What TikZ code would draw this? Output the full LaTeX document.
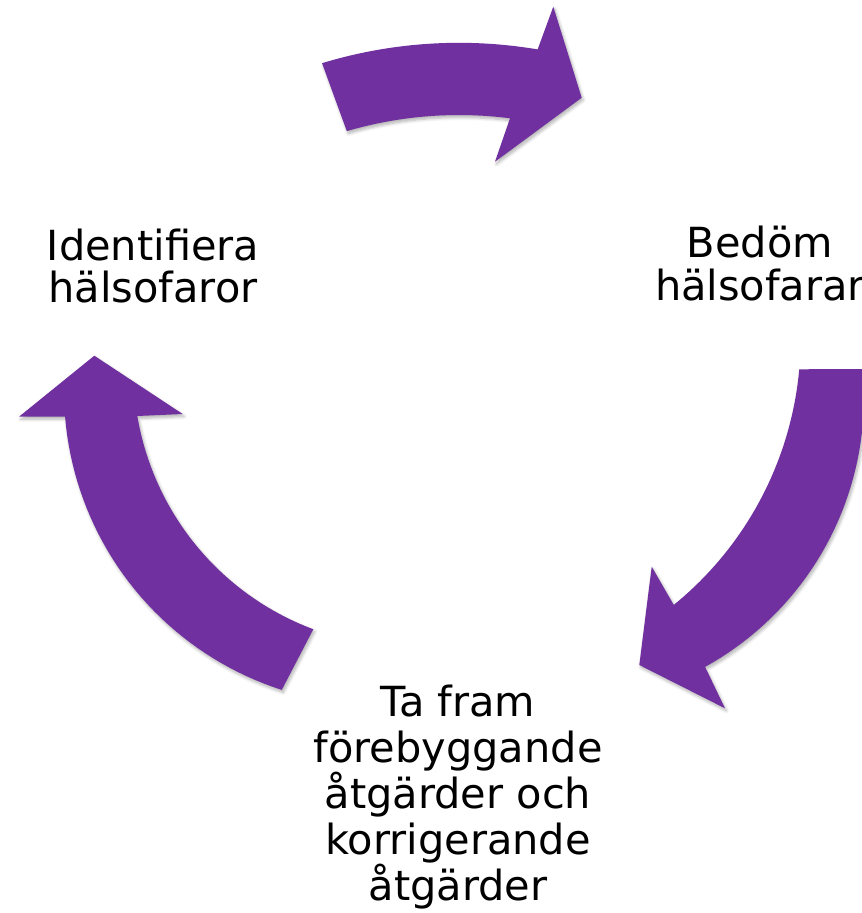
\documentclass[tikz,border=0pt]{standalone}
\usepackage{fontspec}
\setmainfont{DejaVu Sans}
\usetikzlibrary{shadows.blur}
\definecolor{arrowpurple}{RGB}{112,48,160}
\tikzset{
  arrowfill/.style={fill=arrowpurple, draw=none,
    blur shadow={shadow xshift=1.5pt, shadow yshift=-2.5pt, shadow blur radius=3pt, shadow blur steps=6, shadow opacity=30}},
  label/.style={inner sep=0pt, align=center, anchor=base, text=black}
}
\begin{document}
\begin{tikzpicture}[x=1pt,y=-1pt]
\useasboundingbox (0,0) rectangle (862,913);
\clip (0,0) rectangle (862,913);
% top arrow
\path[arrowfill]
  plot[domain=-106.9:-80.39, samples=40, variable=\t] ({459+471.2*cos(\t)},{514+471.2*sin(\t)})
  -- (553.3,6.7) -- (581.7,97.7) -- (495,161.7) -- (510,118.3)
  -- plot[domain=-82.65:-106.33, samples=40, variable=\t] ({459+399*cos(\t)},{514+399*sin(\t)})
  -- cycle;
% right arrow
\path[arrowfill]
  plot[domain=5.19:50.9, samples=40, variable=\t] ({457+343.7*cos(\t)},{338.2+343.7*sin(\t)})
  -- (651.7,566.7) -- (639.3,665) -- (725,708.3) -- (705,666.7)
  -- plot[domain=61.1:-5.33, samples=40, variable=\t] ({556.2+307.7*cos(\t)},{397.6+307.7*sin(\t)})
  -- cycle;
% left arrow
\path[arrowfill] (94.3,355.7) -- (182.7,414) -- (137.3,416)
  -- plot[domain=170.47:110.47, samples=40, variable=\t] ({410+276.5*cos(\t)},{370.2+276.5*sin(\t)})
  -- (281.7,690)
  -- plot[domain=107.85:175.31, samples=40, variable=\t] ({378+314*cos(\t)},{391+314*sin(\t)})
  -- (19,416.7) -- cycle;
% labels
\node[label, font=\fontsize{41.5}{41.6}\selectfont] (ident) at (153,302.3) {Identifiera\\hälsofaror};
\node[label, font=\fontsize{41.5}{42.5}\selectfont] (bedom) at (760,300) {Bedöm\\hälsofarar};
\node[label, font=\fontsize{41.5}{46}\selectfont] (tafram) at (458,900) {Ta fram\\förebyggande\\åtgärder och\\korrigerande\\åtgärder};
\end{tikzpicture}
\end{document}
